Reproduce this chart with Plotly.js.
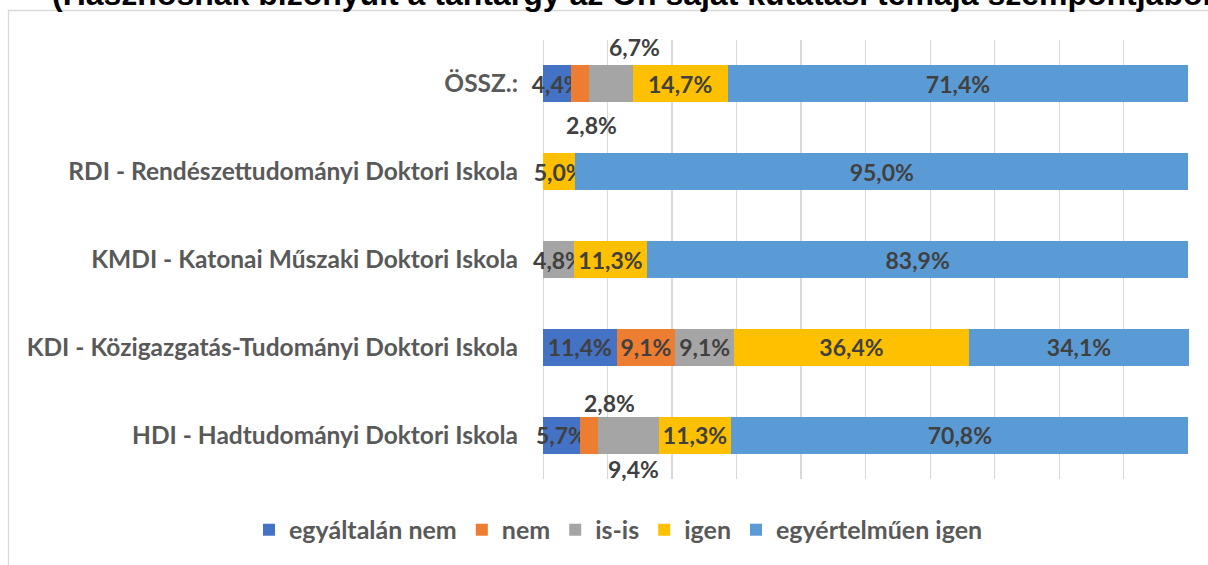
<!DOCTYPE html>
<html>
<head>
<meta charset="utf-8">
<script src="https://cdn.plot.ly/plotly-3.0.1.min.js"></script>
<style>html,body{margin:0;padding:0;background:#fff;}#chart{width:1208px;height:565px;}</style>
</head>
<body>
<div id="chart"></div>
<script>
const categories = [
  "HDI - Hadtudományi Doktori Iskola",
  "KDI - Közigazgatás-Tudományi Doktori Iskola",
  "KMDI - Katonai Műszaki Doktori Iskola",
  "RDI - Rendészettudományi Doktori Iskola",
  "ÖSSZ.:"
];
const seriesNames = ["egyáltalán nem", "nem", "is-is", "igen", "egyértelműen igen"];
const egyaltalanNem = [5.7, 11.4, 0, 0, 4.4];
const nem = [2.8, 9.1, 0, 0, 2.8];
const isIs = [9.4, 9.1, 4.8, 0, 6.7];
const igen = [11.3, 36.4, 11.3, 5.0, 14.7];
const egyertelmuen = [70.8, 34.1, 83.9, 95.0, 71.4];
const titleText = "(Hasznosnak bizonyult a tantárgy az Ön saját kutatási témája szempontjából)";

const series = [egyaltalanNem, nem, isIs, igen, egyertelmuen];
const colors = ["#4472C4", "#ED7D31", "#A5A5A5", "#FFC000", "#5B9BD5"];
const fmt = v => v.toFixed(1).replace(".", ",") + "%";
const labelFont = {family: "Lato", size: 23, color: "#404040", weight: "bold"};

// layout geometry (pixels)
const W = 1208, H = 565, ML = 10, MR = 19, MT = 40, MB = 86;
const PW = W - ML - MR, PH = H - MT - MB;
const px2x = p => (p - ML) / PW;
const px2y = p => (H - MB - p) / PH;

// labels drawn outside the bar (small segments): [seriesIndex, categoryIndex, yshift, xshift]
const outsideLabels = [
  [2, 4, 37, 23], [1, 4, -41, 11],
  [1, 0, 32, 21], [2, 0, -34, 5]
];
const isOutside = (s, c) => outsideLabels.some(o => o[0] === s && o[1] === c);

const traces = series.map((vals, s) => ({
  type: "bar",
  orientation: "h",
  name: seriesNames[s],
  y: categories,
  x: vals,
  marker: {color: colors[s], line: {width: 0}},
  text: vals.map((v, c) => (v > 0 && !isOutside(s, c)) ? fmt(v) : ""),
  textposition: "inside",
  insidetextanchor: "middle",
  textangle: 0,
  constraintext: "none",
  cliponaxis: false,
  textfont: labelFont,
  hoverinfo: "x+name"
}));

const annotations = outsideLabels.map(([s, c, ys, xs]) => {
  let start = 0;
  for (let k = 0; k < s; k++) start += series[k][c];
  return {
    x: start + series[s][c] / 2, y: categories[c], xref: "x", yref: "y",
    text: fmt(series[s][c]), showarrow: false, yshift: ys, xshift: xs,
    font: labelFont
  };
});
annotations.push({
  text: "<b>" + titleText + "</b>", xref: "paper", yref: "paper",
  x: px2x(50), y: px2y(14), xanchor: "left", yanchor: "bottom",
  showarrow: false, font: {family: "Liberation Sans", size: 32, color: "#000"}
});

const layout = {
  width: W, height: H,
  margin: {l: ML, r: MR, t: MT, b: MB, autoexpand: false},
  paper_bgcolor: "#fff", plot_bgcolor: "#fff",
  barmode: "stack",
  bargap: 0.58,
  showlegend: true,
  legend: {
    orientation: "h", xref: "container", x: 0.512, xanchor: "center",
    yref: "container", y: 0.062, yanchor: "middle",
    font: {family: "Lato", size: 25, color: "#595959", weight: "bold"},
    traceorder: "normal"
  },
  xaxis: {
    domain: [px2x(543), 1],
    range: [0, 100.1], dtick: 10, showgrid: true, gridcolor: "#D9D9D9", gridwidth: 1.3,
    showticklabels: false, zeroline: true, zerolinecolor: "#D9D9D9", fixedrange: true
  },
  yaxis: {
    categoryorder: "array", categoryarray: categories, range: [-0.5, 4.5],
    tickfont: {family: "Lato", size: 24.5, color: "#595959", weight: "bold"},
    ticklabelstandoff: 24, showgrid: false, zeroline: false, fixedrange: true
  },
  annotations: annotations,
  shapes: [{
    type: "rect", xref: "paper", yref: "paper",
    x0: px2x(8.5), x1: 1.2, y0: -0.5, y1: px2y(10.5),
    line: {color: "#D9D9D9", width: 1.3}, fillcolor: "rgba(0,0,0,0)", layer: "below"
  }]
};

Plotly.newPlot("chart", traces, layout, {displayModeBar: false, staticPlot: true});
</script>
</body>
</html>
